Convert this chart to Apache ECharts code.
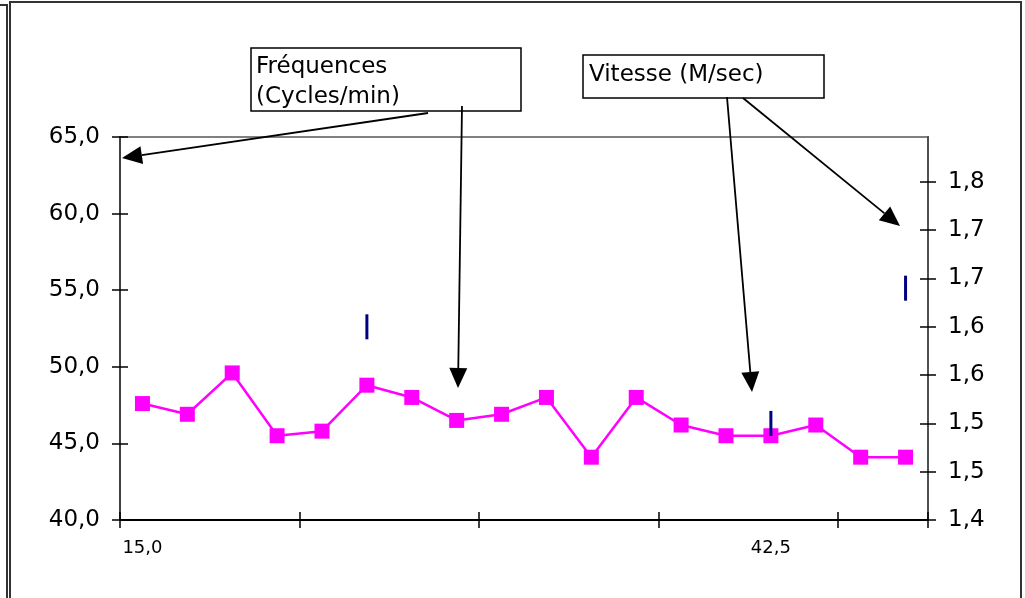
<!DOCTYPE html>
<html><head><meta charset="utf-8">
<script src="https://cdn.jsdelivr.net/npm/echarts@6/dist/echarts.min.js"></script>
<style>html,body{margin:0;padding:0;background:#fff}#c{width:1025px;height:598px}</style>
</head><body><div id="c"></div>
<script>
// ---- data ----
const categories = ['15,0','','','','','','','','','','','','','','42,5','','',''];
const frequences = [47.6,46.9,49.6,45.5,45.8,48.8,48.0,46.5,46.9,48.0,44.1,48.0,46.2,45.5,45.5,46.2,44.1,44.1];
const vitesse = [null,null,null,null,null,1.60,null,null,null,null,null,null,null,null,1.50,null,null,1.64];
const leftTicks = [40,45,50,55,60,65];
const leftTickLabels = ['40,0','45,0','50,0','55,0','60,0','65,0'];
const rightTicks = [1.40,1.45,1.50,1.55,1.60,1.65,1.70,1.75];
const rightTickLabels = ['1,4','1,5','1,5','1,6','1,6','1,7','1,7','1,8'];
const seriesNames = ['Fréquences (Cycles/min)','Vitesse (M/sec)'];
const annotFreq = 'Fréquences\n(Cycles/min)';
const annotVit = 'Vitesse (M/sec)';

const FONT = 'DejaVu Sans';
const chart = echarts.init(document.getElementById('c'), null, {renderer:'canvas'});

function arrow(x1,y1,x2,y2){
  const L=20, W=9;
  const dx=x2-x1, dy=y2-y1, d=Math.hypot(dx,dy);
  const ux=dx/d, uy=dy/d;
  const bx=x2-ux*L, by=y2-uy*L;
  return [
    {type:'line', shape:{x1:x1,y1:y1,x2:bx,y2:by}, style:{stroke:'#000',lineWidth:1.8}, z:100},
    {type:'polygon', shape:{points:[[x2,y2],[bx-uy*W,by+ux*W],[bx+uy*W,by-ux*W]]}, style:{fill:'#000'}, z:100}
  ];
}

function leftLabel(v){ const i=leftTicks.indexOf(Math.round(v)); return i>=0?leftTickLabels[i]:''; }
function rightLabel(v){
  const i=Math.round((v-1.4)/0.05);
  if (Math.abs((v-1.4)/0.05 - i) > 1e-6 || i<0 || i>=rightTickLabels.length) return '';
  return rightTickLabels[i];
}

const option = {
  animation:false,
  backgroundColor:'#fff',
  grid:{left:120,right:97,top:137,bottom:78,show:true,borderColor:'#808080',borderWidth:2,backgroundColor:'#fff'},
  xAxis:[
    {type:'category',data:categories,boundaryGap:true,
     axisLine:{lineStyle:{color:'#000',width:2}},
     axisTick:{show:true,inside:false,length:8,interval:function(i){return i%4===0;},lineStyle:{color:'#000',width:1.5}},
     axisLabel:{interval:0,fontFamily:FONT,fontSize:18,color:'#000',margin:19},
     splitLine:{show:false}},
    {type:'category',data:categories,boundaryGap:true,position:'bottom',
     axisLine:{show:false},
     axisTick:{show:true,inside:true,length:8,interval:function(i){return i%4===0;},lineStyle:{color:'#000',width:1.5}},
     axisLabel:{show:false},splitLine:{show:false}}
  ],
  yAxis:[
    {type:'value',position:'left',min:40,max:65,interval:5,
     axisLine:{show:true,lineStyle:{color:'#404040',width:2}},
     axisTick:{show:true,inside:false,length:8,lineStyle:{color:'#000',width:1.5}},
     axisLabel:{fontFamily:FONT,fontSize:23,color:'#000',margin:20,formatter:leftLabel},
     splitLine:{show:false}},
    {type:'value',position:'left',min:40,max:65,interval:5,
     axisLine:{show:false},
     axisTick:{show:true,inside:true,length:8,lineStyle:{color:'#000',width:1.5}},
     axisLabel:{show:false},splitLine:{show:false}},
    {type:'value',position:'right',min:1.4,max:1.7965,interval:0.05,
     axisLine:{show:true,lineStyle:{color:'#505050',width:2}},
     axisTick:{show:true,inside:false,length:8,customValues:rightTicks,lineStyle:{color:'#000',width:1.5}},
     axisLabel:{fontFamily:FONT,fontSize:23,color:'#000',margin:20,customValues:rightTicks,formatter:rightLabel},
     splitLine:{show:false}},
    {type:'value',position:'right',min:1.4,max:1.7965,interval:0.05,
     axisLine:{show:false},
     axisTick:{show:true,inside:true,length:8,customValues:rightTicks,lineStyle:{color:'#000',width:1.5}},
     axisLabel:{show:false},splitLine:{show:false}}
  ],
  series:[
    {name:seriesNames[0],type:'line',xAxisIndex:0,yAxisIndex:0,data:frequences,
     symbol:'rect',symbolSize:15,showAllSymbol:true,
     lineStyle:{color:'#FF00FF',width:2.5},itemStyle:{color:'#FF00FF'},z:3},
    {name:seriesNames[1],type:'line',xAxisIndex:0,yAxisIndex:2,data:vitesse,
     symbol:'rect',symbolSize:[3,25],showAllSymbol:true,connectNulls:false,
     lineStyle:{width:0,opacity:0},itemStyle:{color:'#000080'},z:4}
  ],
  graphic:[
    {type:'rect',shape:{x:10,y:2,width:1011,height:610},style:{fill:null,stroke:'#333',lineWidth:2},z:50,silent:true},
    {type:'polyline',shape:{points:[[0,5],[7,5],[7,600]]},style:{fill:null,stroke:'#333',lineWidth:2},z:50,silent:true},
    {type:'rect',shape:{x:251,y:48,width:270,height:63},style:{fill:'#fff',stroke:'#000',lineWidth:1.5},z:90},
    {type:'text',x:256,y:52,style:{text:annotFreq,font:'23px "DejaVu Sans"',fill:'#000',lineHeight:30,verticalAlign:'top',align:'left'},z:91},
    {type:'rect',shape:{x:583,y:55,width:241,height:43},style:{fill:'#fff',stroke:'#000',lineWidth:1.5},z:90},
    {type:'text',x:589,y:60,style:{text:annotVit,font:'23px "DejaVu Sans"',fill:'#000',lineHeight:30,verticalAlign:'top',align:'left'},z:91}
  ].concat(arrow(428,113,122,158), arrow(462,106,458,388), arrow(727,97,752,392), arrow(743,98,900,226))
};
chart.setOption(option);
</script>
</body></html>
